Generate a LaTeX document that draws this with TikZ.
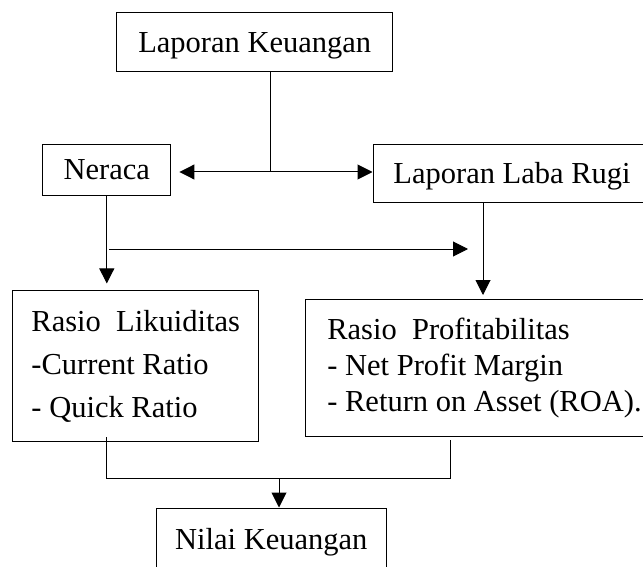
\documentclass[tikz,border=0pt]{standalone}
\usepackage{fontspec}
\setmainfont{Liberation Serif}
\usetikzlibrary{arrows.meta}
\tikzset{
  kotak/.style={draw, line width=1pt, inner sep=2pt, font=\fontsize{30.5}{36}\selectfont},
  kotaksatu/.style={kotak, text height=20pt, text depth=0pt},
  panah/.style={line width=1pt, -{Triangle[length=15pt,width=15pt]}},
  garis/.style={line width=1pt}
}
\begin{document}
\begin{tikzpicture}[x=1pt,y=-1pt]
\clip (0,0) rectangle (643,567);
\node[kotaksatu, minimum width=276pt, minimum height=59pt] (lk) at (254.7,42.2) {Laporan Keuangan};
\node[kotaksatu, minimum width=128.3pt, minimum height=51.7pt] (ner) at (106.8,169.9) {Neraca};
\node[kotaksatu, minimum width=278pt, minimum height=58.7pt] (lr) at (512,173.4) {Laporan Laba Rugi};
\node[kotak, align=left, font=\fontsize{30.5}{43}\selectfont, minimum width=246pt, minimum height=151.3pt] (rl) at (135.7,366.3) {Rasio\ \ Likuiditas\\-Current Ratio\\- Quick Ratio};
\node[kotak, align=left, minimum width=359pt, minimum height=137.7pt] (rp) at (484.5,367.9) {Rasio\ \ Profitabilitas\\- Net Profit Margin\\- Return on Asset (ROA).};
\node[kotaksatu, minimum width=229.3pt, minimum height=62pt] (nk) at (271.35,539) {Nilai Keuangan};

\coordinate (j1) at (270,172);
\draw[garis] (lk.south -| j1) -- (j1);
\draw[panah] (j1) -- ([xshift=8pt]j1 -| ner.east);
\draw[panah] (j1) -- (j1 -| lr.west);
\draw[panah] (ner.south) -- ([yshift=6.7pt]ner.south |- rl.north);
\coordinate (m1) at (109,249);
\coordinate (m2) at (468,249);
\draw[panah] (m1) -- (m2);
\coordinate (lrx) at (483,295);
\draw[panah] (lrx |- lr.south) -- (lrx);
\coordinate (b1) at (106.7,478);
\coordinate (b2) at (450.7,478);
\coordinate (b3) at (279,478);
\draw[garis] ([yshift=5pt]b1 |- rl.south) -- (b1) -- (b2) -- ([yshift=-3pt]b2 |- rp.south);
\draw[panah] (b3) -- (b3 |- nk.north);
\end{tikzpicture}
\end{document}
